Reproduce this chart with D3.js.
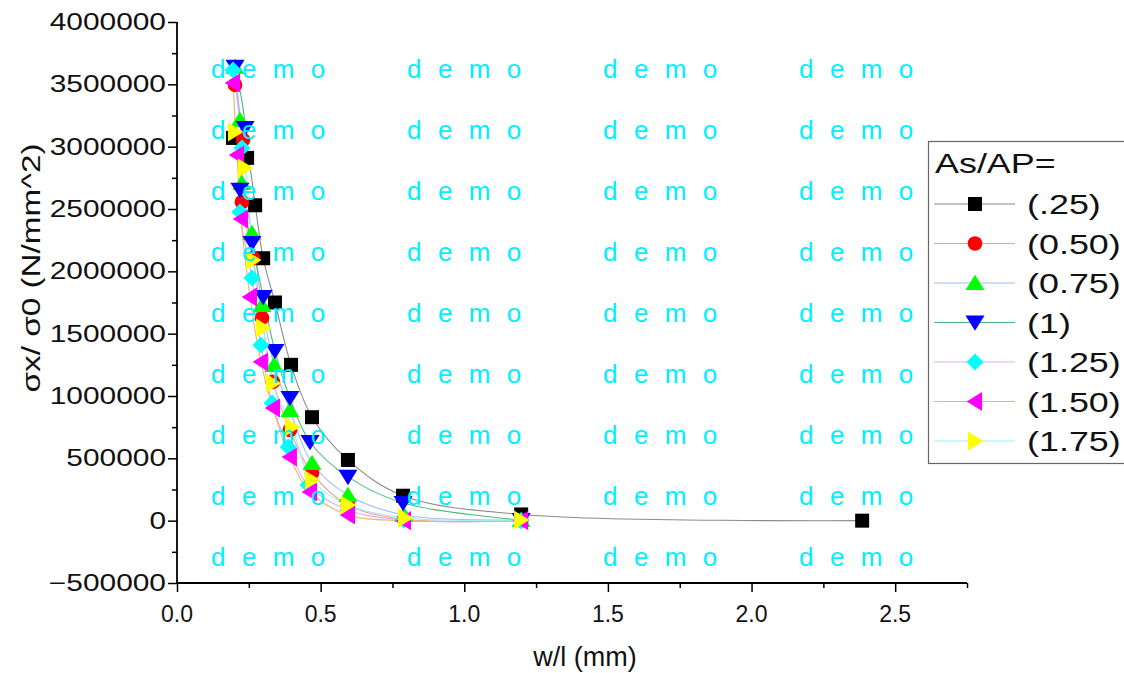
<!DOCTYPE html>
<html><head><meta charset="utf-8">
<script src="https://cdn.jsdelivr.net/npm/d3@7"></script>
<style>
html,body{margin:0;padding:0;background:#fff;}
svg{display:block;font-family:"Liberation Sans",Arial,sans-serif;}
</style></head>
<body><svg id="c" width="1124" height="673"></svg>
<script>
// ---------------- data ----------------
const seriesLabels = ["(.25)","(0.50)","(0.75)","(1)","(1.25)","(1.50)","(1.75)"];
const x_025 = [0.195,0.244,0.272,0.300,0.341,0.397,0.470,0.595,0.787,1.198,2.385];
const y_025 = [3070000,2910000,2530000,2105000,1750000,1250000,830000,487000,200000,50000,0];
const x_050 = [0.202,0.230,0.226,0.265,0.296,0.334,0.393,0.470,0.595,0.790,1.198];
const y_050 = [3495000,3055000,2556000,2107000,1626000,1113000,727000,383000,126000,10000,0];
const x_075 = [0.202,0.219,0.226,0.261,0.296,0.338,0.393,0.470,0.595,0.790,1.198];
const y_075 = [3640000,3214000,2709000,2308000,1730000,1249000,888000,463000,206000,46000,5000];
const x_100 = [0.202,0.237,0.219,0.261,0.300,0.341,0.393,0.463,0.595,0.787,1.198];
const y_100 = [3640000,3150000,2653000,2227000,1794000,1361000,984000,631000,351000,142000,5000];
const x_125 = [0.195,0.226,0.219,0.261,0.292,0.331,0.387,0.456,0.595,0.790,1.198];
const y_125 = [3615000,2989000,2476000,1947000,1409000,944000,591000,286000,86000,5000,0];
const x_150 = [0.195,0.209,0.223,0.254,0.292,0.334,0.393,0.463,0.595,0.790,1.198];
const y_150 = [3511000,2933000,2420000,1794000,1273000,904000,511000,230000,46000,0,0];
const x_175 = [0.202,0.237,0.265,0.300,0.334,0.400,0.470,0.595,0.794,1.198];
const y_175 = [3118000,2829000,2090000,1546000,1103000,752000,326000,126000,22000,5000];
const xTicks = [0.0,0.5,1.0,1.5,2.0,2.5];
const yTicks = [-500000,0,500000,1000000,1500000,2000000,2500000,3000000,3500000,4000000];
const legendTitle = "As/AP=";
const xTitle = "w/l (mm)";
const yTitle = "σx/ σ0 (N/mm^2)";
const watermark = "d e m o";

// ---------------- styles ----------------
const markerFill = ["#000000","#ff0000","#00ff00","#0000ff","#00ffff","#ff00ff","#ffff00"];
const lineColor  = ["#8a8a8a","#ff9a9a","#9cbcff","#4cb878","#d9b0f0","#e8b860","#9ceef4"];
const markerType = ["square","circle","up","down","diamond","left","right"];

const seriesX = [x_025,x_050,x_075,x_100,x_125,x_150,x_175];
const seriesY = [y_025,y_050,y_075,y_100,y_125,y_150,y_175];
const series = seriesLabels.map((lab,i)=>({label:lab, pts:seriesX[i].map((x,j)=>({x, y:seriesY[i][j]}))}));

const svg = d3.select("#c");
const L=177, R=967, T=22, B=583;
const x = d3.scaleLinear().domain([0,2.75]).range([L,R]);
const y = d3.scaleLinear().domain([-500000,4000000]).range([B,T]);

function marker(type){
  const s=8.3;
  switch(type){
    case "square": return `M-7,-7H7V7H-7Z`;
    case "circle": return d3.symbol(d3.symbolCircle, Math.PI*7.3*7.3)();
    case "up": return `M0,${-s}L${s*1.15},${s*0.85}L${-s*1.15},${s*0.85}Z`;
    case "down": return `M0,${s}L${s*1.15},${-s*0.85}L${-s*1.15},${-s*0.85}Z`;
    case "left": return `M${-s},0L${s*0.85},${-s*1.15}L${s*0.85},${s*1.15}Z`;
    case "right": return `M${s},0L${-s*0.85},${-s*1.15}L${-s*0.85},${s*1.15}Z`;
    case "diamond": return `M0,-8.5L8.5,0L0,8.5L-8.5,0Z`;
  }
}

// lines
const line = d3.line().x(d=>x(d.x)).y(d=>y(d.y)).curve(d3.curveCatmullRom.alpha(0.5));
series.forEach((s,i)=>{
  svg.append("path").attr("d",line(s.pts)).attr("fill","none")
    .attr("stroke",lineColor[i]).attr("stroke-width",1.1);
});
// markers
series.forEach((s,i)=>{
  svg.append("g").selectAll("path").data(s.pts).join("path")
    .attr("d",marker(markerType[i]))
    .attr("transform",d=>`translate(${x(d.x)},${y(d.y)})`)
    .attr("fill",markerFill[i]);
});

// axes
const ax = svg.append("g").attr("transform",`translate(0,${B})`)
  .call(d3.axisBottom(x).tickValues(d3.range(0,2.76,0.25)).tickSize(8).tickFormat(""));
ax.select(".domain").attr("stroke","#000").attr("stroke-width",1.8).attr("d",`M${L},0H${R}`);
ax.selectAll(".tick line").attr("stroke","#000").attr("stroke-width",1.5)
  .attr("y2",(d)=> (Math.abs(d/0.5-Math.round(d/0.5))<1e-6)?9:5);
xTicks.forEach(v=>{
  svg.append("text").attr("x",x(v)).attr("y",B+39).attr("text-anchor","middle")
    .attr("font-size",23).attr("fill","#111").text(v.toFixed(1));
});

const ay = svg.append("g").attr("transform",`translate(${L},0)`)
  .call(d3.axisLeft(y).tickValues(d3.range(-500000,4000001,250000)).tickSize(8).tickFormat(""));
ay.select(".domain").attr("stroke","#000").attr("stroke-width",1.8).attr("d",`M0,${B}V${T}`);
ay.selectAll(".tick line").attr("stroke","#000").attr("stroke-width",1.5)
  .attr("x2",(d)=> (d%500000===0)?-9:-5);
yTicks.forEach(v=>{
  svg.append("text").attr("transform",`translate(166,${y(v)+8}) scale(1.3,1)`)
    .attr("text-anchor","end").attr("font-size",23).attr("fill","#111")
    .text(v<0?"\u2212"+Math.abs(v):String(v));
});

// axis titles
svg.append("text").attr("x",585).attr("y",666).attr("text-anchor","middle")
  .attr("font-size",27).attr("fill","#111").text(xTitle);
svg.append("text").attr("transform",`translate(40,268) rotate(-90) scale(1.28,1)`)
  .attr("text-anchor","middle").attr("font-size",26).attr("fill","#111").text(yTitle);

// watermark
const wmX=[211,407,603,799];
const wmY=d3.range(9).map(k=>78+61*k);
wmY.forEach(yy=>wmX.forEach(xx=>{
  svg.append("text").attr("x",xx).attr("y",yy).attr("font-size",26)
    .attr("letter-spacing","4.6px").attr("fill","#00f0ff").text(watermark);
}));

// legend
const lg = svg.append("g");
lg.append("rect").attr("x",928.5).attr("y",141.5).attr("width",220).attr("height",322)
  .attr("fill","#fff").attr("stroke","#666").attr("stroke-width",1.2);
lg.append("text").attr("transform","translate(935,173) scale(1.33,1)")
  .attr("font-size",27).attr("fill","#111").text(legendTitle);
series.forEach((s,i)=>{
  const yy=204+39.5*i;
  lg.append("line").attr("x1",934).attr("x2",1015).attr("y1",yy).attr("y2",yy)
    .attr("stroke",lineColor[i]).attr("stroke-width",1.1);
  lg.append("path").attr("d",marker(markerType[i])).attr("transform",`translate(975,${yy})`)
    .attr("fill",markerFill[i]);
  lg.append("text").attr("transform",`translate(1027,${yy+10}) scale(1.33,1)`)
    .attr("font-size",27).attr("fill","#111").text(s.label);
});
</script></body></html>
